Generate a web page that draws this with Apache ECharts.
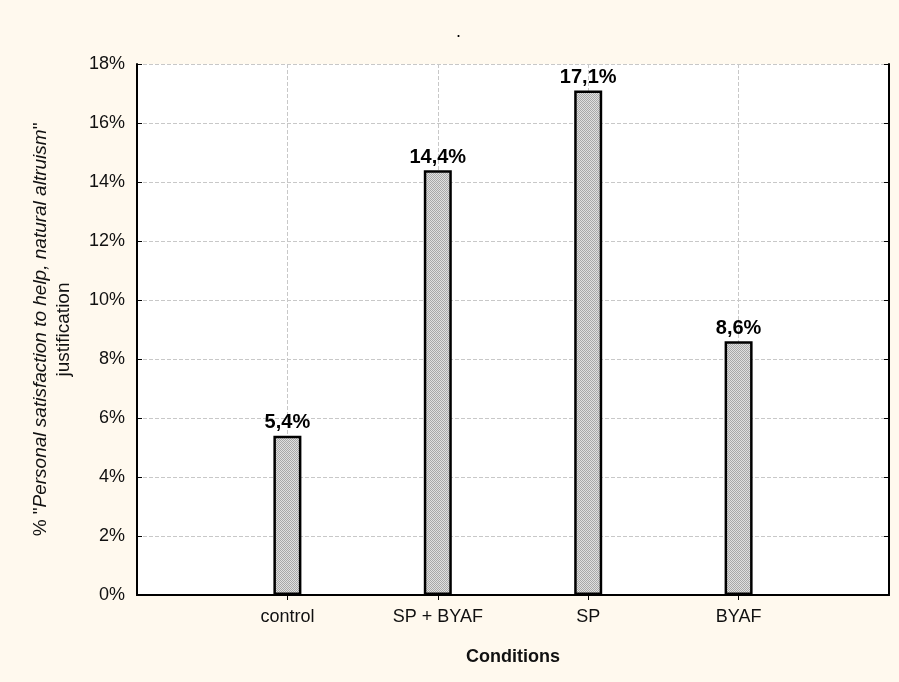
<!DOCTYPE html>
<html><head><meta charset="utf-8">
<script src="https://cdn.jsdelivr.net/npm/echarts@6/dist/echarts.min.js"></script>
<style>html,body{margin:0;padding:0;background:#FFF9EE;}#c{width:899px;height:682px;}</style>
</head><body><div id="c"></div>
<script>
const categories = ['', 'control', 'SP + BYAF', 'SP', 'BYAF', ''];
const values = ['-', 5.4, 14.4, 17.1, 8.6, '-'];
const yTicks = [0, 2, 4, 6, 8, 10, 12, 14, 16, 18];

const pc = document.createElement('canvas');
pc.width = 2; pc.height = 2;
const g = pc.getContext('2d');
g.fillStyle = '#e0e0e0'; g.fillRect(0,0,2,2);
g.fillStyle = '#a8a8a8'; g.fillRect(0,0,1,1); g.fillRect(1,1,1,1);

const chart = echarts.init(document.getElementById('c'));
const font = 'Arial, "Liberation Sans", sans-serif';
chart.setOption({
  backgroundColor: '#FFF9EE',
  animation: false,
  title: { text: '.', left: 451, top: 18, textStyle: { fontSize: 18, fontWeight: 'normal', color: '#000', fontFamily: font } },
  grid: { left: 137, right: 10, top: 64, bottom: 87, show: true, backgroundColor: '#fff', borderColor: '#000', borderWidth: 0 },
  xAxis: [{
    type: 'category', data: categories, boundaryGap: false,
    axisLine: { lineStyle: { color: '#222', width: 2 } },
    axisTick: { inside: true, length: 4, lineStyle: { color: '#222' }, interval: (i) => i > 0 && i < categories.length - 1 },
    axisLabel: { fontSize: 18, color: '#111', margin: 13, fontFamily: font, interval: 0 },
    splitLine: { show: true, lineStyle: { type: 'dashed', color: '#c8c8c8' } },
    name: 'Conditions', nameLocation: 'middle', nameGap: 53,
    nameTextStyle: { fontSize: 18, fontWeight: 'bold', color: '#111', fontFamily: font }
  }, {
    type: 'category', data: categories, boundaryGap: false, position: 'top',
    axisLine: { lineStyle: { color: '#000', width: 2 } },
    axisTick: { inside: true, length: 5, lineStyle: { color: '#000' }, interval: (i) => i > 0 && i < categories.length - 1 },
    axisLabel: { show: false }, splitLine: { show: false }
  }],
  yAxis: [{
    type: 'value', min: 0, max: 18, interval: 2,
    axisLine: { show: true, lineStyle: { color: '#000', width: 2 } },
    axisTick: { show: true, inside: true, length: 5, lineStyle: { color: '#000' } },
    axisLabel: { formatter: '{value}%', fontSize: 18, color: '#111', margin: 12, fontFamily: font },
    splitLine: { show: true, lineStyle: { type: 'dashed', color: '#c8c8c8' } },
    name: '{n|% "}{i|Personal satisfaction to help, natural altruism}{n|"}\n{n|justification}',
    nameLocation: 'middle', nameRotate: 90, nameGap: 62,
    nameTextStyle: {
      fontFamily: font, fontSize: 19, color: '#111', lineHeight: 23,
      rich: {
        n: { fontSize: 19, fontFamily: font, color: '#111', lineHeight: 23 },
        i: { fontSize: 19, fontFamily: font, color: '#111', fontStyle: 'italic', lineHeight: 23 }
      }
    }
  }, {
    type: 'value', min: 0, max: 18, interval: 2, position: 'right',
    axisLine: { show: true, lineStyle: { color: '#000', width: 2 } },
    axisTick: { show: true, inside: true, length: 5, lineStyle: { color: '#000' } },
    axisLabel: { show: false }, splitLine: { show: false }
  }],
  series: [{
    type: 'bar', data: values, barWidth: 28,
    itemStyle: { color: { image: pc, repeat: 'repeat' }, borderColor: '#000', borderWidth: 2.5 },
    label: {
      show: true, position: 'top', distance: 3, fontSize: 20, fontWeight: 'bold', color: '#000', fontFamily: font,
      formatter: p => String(p.value).replace('.', ',') + '%'
    }
  }]
});
</script></body></html>
